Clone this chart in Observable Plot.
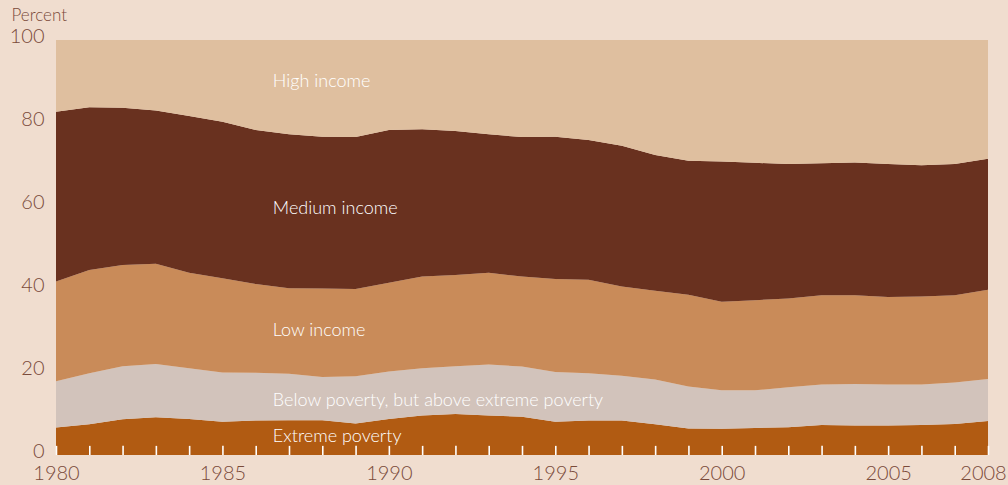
<!DOCTYPE html>
<html>
<head>
<meta charset="utf-8">
<script src="https://cdn.jsdelivr.net/npm/d3@7"></script>
<script src="https://cdn.jsdelivr.net/npm/@observablehq/plot@0.6"></script>
<style>
  html, body { margin: 0; padding: 0; background: #f0ddcf; }
  #chart svg { display: block; }
</style>
</head>
<body>
<div id="chart"></div>
<script>
const years = d3.range(1980, 2009);
const extreme = [6.6,7.4,8.6,9.1,8.7,8.0,8.3,8.4,8.4,7.6,8.7,9.5,9.9,9.5,9.2,8.0,8.3,8.3,7.4,6.4,6.3,6.5,6.7,7.2,7.1,7.1,7.2,7.5,8.2];
const belowPoverty = [11.2,12.3,12.8,12.8,12.2,11.9,11.5,11.2,10.4,11.4,11.4,11.4,11.5,12.3,12.1,12.0,11.4,10.8,10.8,10.1,9.3,9.1,9.6,9.8,10.0,9.9,9.8,10.0,10.1];
const lowIncome = [24.0,24.9,24.4,24.2,23.0,22.7,21.4,20.6,21.3,21.0,21.4,22.1,22.0,22.1,21.7,22.4,22.5,21.5,21.4,22.1,21.3,21.7,21.4,21.5,21.4,21.1,21.2,21.0,21.5];
const mediumIncome = [40.9,39.2,37.9,36.9,37.8,37.7,37.1,37.1,36.6,36.6,36.8,35.5,34.7,33.4,33.6,34.3,33.7,33.9,32.7,32.3,33.8,33.1,32.4,31.8,32.0,32.0,31.6,31.6,31.6];
const highIncome = [17.3,16.2,16.3,17.0,18.3,19.7,21.7,22.7,23.3,23.4,21.7,21.5,21.9,22.7,23.4,23.3,24.1,25.5,27.7,29.1,29.3,29.6,29.9,29.7,29.5,29.9,30.2,29.9,28.6];

const seriesNames = ["Extreme poverty", "Below poverty, but above extreme poverty", "Low income", "Medium income", "High income"];
const seriesColors = ["#b15b12", "#d2c3bb", "#c98b59", "#69311f", "#dfbf9f"];
const seriesValues = [extreme, belowPoverty, lowIncome, mediumIncome, highIncome];

const xTicks = [1980, 1985, 1990, 1995, 2000, 2005];
const xLastTick = [2008];
const yTicks = [0, 20, 40, 60, 80, 100];

// label placement (year, percent)
const labelYear = [1986.5, 1986.5, 1986.5, 1986.5, 1986.5];
const labelValue = [4.6, 13.3, 30.1, 59.5, 90.1];

const rows = [];
seriesNames.forEach((name, s) => {
  years.forEach((yr, i) => rows.push({series: name, year: yr, value: seriesValues[s][i]}));
});
const labels = seriesNames.map((name, s) => ({name, year: labelYear[s], value: labelValue[s]}));

const font = "Lato, 'Open Sans', sans-serif";
const axisColor = "#7a4a3a";

const chart = Plot.plot({
  width: 1008,
  height: 485,
  marginLeft: 56,
  marginRight: 20,
  marginTop: 40,
  marginBottom: 30,
  style: {background: "#f0ddcf", fontFamily: font, color: axisColor},
  x: {domain: [1980, 2008], axis: null},
  y: {domain: [0, 100], axis: null},
  color: {domain: seriesNames, range: seriesColors},
  marks: [
    Plot.areaY(rows, {x: "year", y: "value", fill: "series", order: seriesNames, curve: "linear"}),
    Plot.ruleX(years, {x: d => d, y1: 0, y2: 2.2, stroke: "white", strokeWidth: 1.6}),
    Plot.axisX(xTicks, {tickSize: 0, tickFormat: d => String(d), fontSize: 20, fill: axisColor, tickPadding: 10, fontWeight: 300, label: null}),
    Plot.axisX(xLastTick, {tickSize: 0, tickFormat: d => String(d), fontSize: 20, fill: axisColor, tickPadding: 10, fontWeight: 300, label: null, dx: -5}),
    Plot.axisY(yTicks, {tickSize: 0, fontSize: 20, fill: axisColor, tickPadding: 12, dy: -4, fontWeight: 300, label: null}),
    Plot.text(labels, {x: "year", y: "value", text: "name", fill: "white", fontSize: 18, fontWeight: 300, textAnchor: "start"}),
    Plot.text(["Percent"], {frameAnchor: "top-left", dx: -45, dy: -32, fontSize: 17, fontWeight: 300, fill: axisColor, textAnchor: "start"})
  ]
});
document.getElementById("chart").append(chart);
</script>
</body>
</html>
